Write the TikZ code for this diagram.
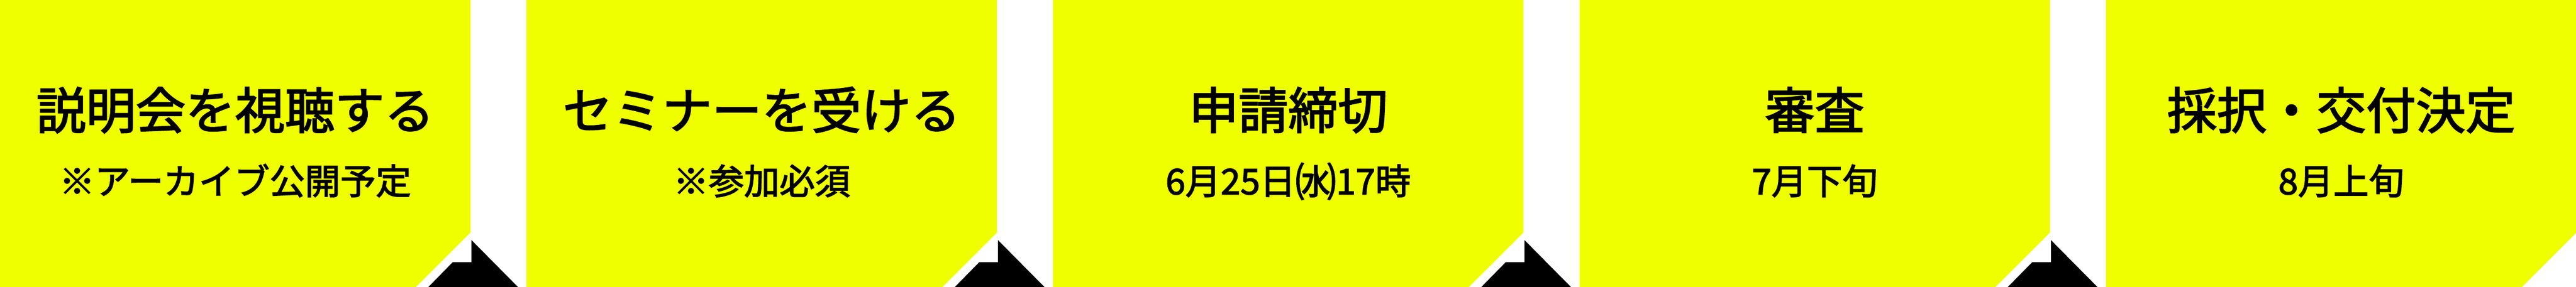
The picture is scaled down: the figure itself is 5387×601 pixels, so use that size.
\documentclass[tikz,border=0pt]{standalone}
\usepackage{fontspec}
\setmainfont{Noto Sans CJK JP}[BoldFont={Noto Sans CJK JP}, BoldFeatures={FakeBold=2.4}]
\definecolor{boxyellow}{HTML}{EFFF00}
\tikzset{
  stepcard/.style={fill=boxyellow},
  foldmark/.style={fill=black},
  titletext/.style={anchor=base, inner sep=0pt, font=\fontsize{104}{110}\selectfont\bfseries},
  subtext/.style={anchor=base, inner sep=0pt, font=\fontsize{74}{80}\selectfont\bfseries},
}
\begin{document}
\begin{tikzpicture}[x=1pt,y=-1pt]
\useasboundingbox (0,0) rectangle (5387,601);
\foreach \i/\t/\s in {0/{説明会を視聴する}/{※アーカイブ公開予定},
                      1/{セミナーを受ける}/{※参加必須},
                      2/{申請締切}/{6月25日\raisebox{-0.07em}{\scalebox{1.15}{㈬}}17時},
                      3/{審査}/{7月下旬},
                      4/{採択・交付決定}/{8月上旬}} {
  \begin{scope}[xshift=\i*1101pt]
    \fill[stepcard] (0,0) -- (984,0) -- (984,487) -- (870,601) -- (0,601) -- cycle;
    \node[titletext] (title\i) at (492,270) {\t};
    \node[subtext] (sub\i) at (492,407) {\s};
  \end{scope}
}
\foreach \i in {0,1,2,3} {
  \begin{scope}[xshift=\i*1101pt]
    \fill[foldmark] (986,503) -- (1083,601) -- (896,601) -- (947,549) -- (986,549) -- cycle;
  \end{scope}
}
\end{tikzpicture}
\end{document}
